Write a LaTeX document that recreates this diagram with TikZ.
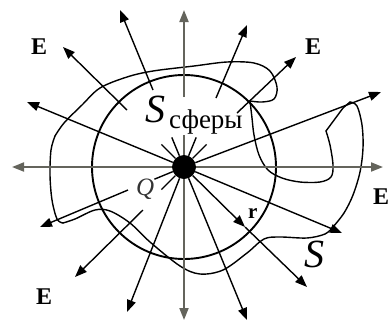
\documentclass[tikz,border=0pt]{standalone}
\usepackage{fontspec}
\setmainfont{Liberation Serif}
\usetikzlibrary{arrows.meta}
\definecolor{axisgray}{RGB}{100,100,92}
\begin{document}
\begin{tikzpicture}[x=1pt,y=-1pt,
  arr/.style={-{Triangle[length=12pt,width=9pt]}, line width=1.4pt},
  ray/.style={line width=1.4pt},
  axisarr/.style={-{Triangle[length=12pt,width=9pt]}, line width=1.8pt, draw=axisgray, fill=axisgray},
  axisray/.style={line width=1.8pt, draw=axisgray},
  curve/.style={line width=1.4pt, line cap=round, line join=round},
  lbl/.style={inner sep=0pt, anchor=base west},
  Elbl/.style={lbl, font=\fontsize{24}{24}\selectfont\bfseries},
  ]
\useasboundingbox (0,0) rectangle (388,322);
% sphere
\draw[line width=1.9pt] (184,167) circle[radius=92pt];
% surface S
\draw[curve] plot[smooth, tension=0.55] coordinates {(250,101) (252,118) (254,135) (259,155) (268,170) (282,178) (300,182) (320,182) (331,177) (333,165) (330,145) (326,131)};
\draw[curve] (326,131) -- (343,108) -- (350,102);
\draw[curve] plot[smooth, tension=0.55] coordinates {(350,102) (357,106) (362,125) (363,148) (360,172) (353,195) (344,213) (333,227)};
\draw[curve] plot[smooth, tension=0.55] coordinates {(333,227) (325,234) (307,238) (280,237) (264,239) (247,253) (223,270) (200,274) (180,266) (150,242) (130,223) (110,211) (95,210) (75,219) (63,223)};
\draw[curve] plot[smooth, tension=0.55] coordinates {(63,223) (57,219) (52,200) (50,175) (51,150) (55,136)};
\draw[curve] plot[smooth, tension=0.55] coordinates {(55,136) (64,123) (82,105) (100,88) (127,77) (153,71) (194,66) (227,62) (254,63) (270,71) (277,87) (274,99) (262,102) (250,101)};
% charge
\node[circle, fill=black, inner sep=0pt, minimum size=24pt] (Q) at (184,167) {};
% coordinates
\coordinate (L1) at (27,102);
\coordinate (L2) at (12,167);
\coordinate (L3) at (383,167);
\coordinate (L4) at (381,92);
\coordinate (L5) at (342,233);
\coordinate (rt) at (245,227);
\coordinate (L6) at (307,287);
\coordinate (L7) at (247,320);
\coordinate (L8) at (184,320);
\coordinate (L9) at (127,312);
\coordinate (a1) at (127,110); \coordinate (b1) at (63,47);  \coordinate (c1) at (161.4,144.4);
\coordinate (a2) at (153,90);  \coordinate (b2) at (120,10); \coordinate (c2) at (171.8,137.4);
\coordinate (a3) at (184,97);  \coordinate (b3) at (184,10); \coordinate (c3) at (184,135);
\coordinate (a4) at (216,98);  \coordinate (b4) at (247,25); \coordinate (c4) at (196.2,137.4);
\coordinate (a5) at (237,113); \coordinate (b5) at (296,57); \coordinate (c5) at (206.6,144.4);
\coordinate (a6) at (143,210); \coordinate (b6) at (75,277); \coordinate (c6) at (161.4,189.6);
\coordinate (a7) at (128,190); \coordinate (b7) at (40,227); \coordinate (c7) at (154.4,179.2);
% long rays
\draw[arr] (Q) -- (L1);
\draw[axisarr] (Q) -- (L2);
\draw[axisarr] (Q) -- (L3);
\draw[arr] (Q) -- (L4);
\draw[arr] (Q) -- (L5);
\draw[arr] (Q) -- (rt);
\draw[arr] (rt) -- (L6);
\draw[arr] (Q) -- (L7);
\draw[axisarr] (Q) -- (L8);
\draw[arr] (Q) -- (L9);
% short inner rays
\foreach \i in {1,2,4,5,6,7} {\draw[ray] (Q) -- (c\i);}
\draw[axisray] (Q) -- (c3);
% outer arrows
\foreach \i in {1,2,4,5,6,7} {\draw[arr] (a\i) -- (b\i);}
\draw[axisarr] (a3) -- (b3);
% labels
\node[Elbl] (E1) at (31,54) {E};
\node[Elbl] (E2) at (305,54) {E};
\node[Elbl] (E3) at (36,304) {E};
\node[Elbl] (E4) at (373,204) {E};
\node[lbl, font=\fontsize{40}{40}\selectfont\itshape] (S1) at (145,122) {S};
\node[lbl, font=\fontsize{27}{27}\selectfont] (sf) at (169,128) {сферы};
\node[lbl, font=\fontsize{40}{40}\selectfont\itshape] (S2) at (304,267) {S};
\node[lbl, font=\fontsize{25}{25}\selectfont\itshape, text=black!80] (Ql) at (136,195) {Q};
\node[lbl, font=\fontsize{21}{21}\selectfont\bfseries] (rl) at (248,218) {r};
\end{tikzpicture}
\end{document}
